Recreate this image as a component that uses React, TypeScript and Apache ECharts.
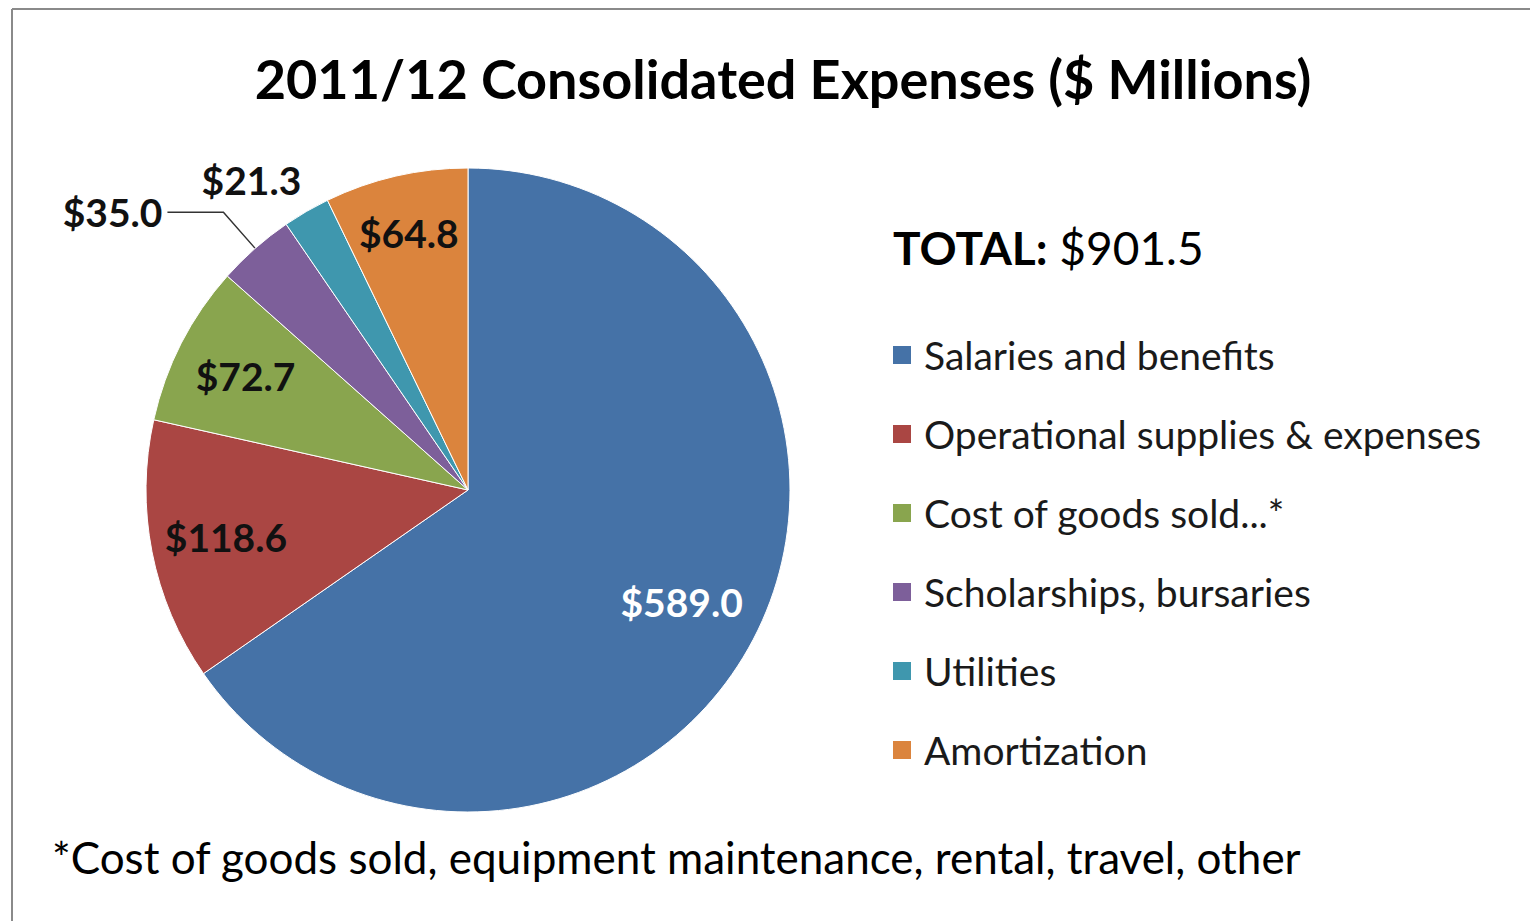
import React, { useEffect, useRef } from "react";
import * as echarts from "echarts";

const categories = [
  "Salaries and benefits",
  "Operational supplies & expenses",
  "Cost of goods sold...*",
  "Scholarships, bursaries",
  "Utilities",
  "Amortization",
];
const values = [589.0, 118.6, 72.7, 35.0, 21.3, 64.8];
const colors = ["#4572A7", "#AA4643", "#89A54E", "#7D5F9A", "#3F97AE", "#DB843D"];
const titleText = "2011/12 Consolidated Expenses ($ Millions)";
const totalLabel = "TOTAL:";
const totalValue = "$901.5";
const footnote = "*Cost of goods sold, equipment maintenance, rental, travel, other";

const FONT = "Lato, 'Open Sans', sans-serif";
const CX = 468;
const CY = 490;
const R = 322;
// radial position of inside labels, as fraction of radius
const insideFrac: Record<number, number> = { 0: 0.735, 1: 0.752, 2: 0.762, 5: 0.805 };

export default function App() {
  const ref = useRef<HTMLDivElement>(null);
  useEffect(() => {
    if (!ref.current) return;
    const chart = echarts.init(ref.current, undefined, { renderer: "svg" });
    const outside = new Set([3, 4]);
    const data = categories.map((name, i) => {
      const item: any = {
        name,
        value: values[i],
        itemStyle: { color: colors[i] },
        label: {
          position: outside.has(i) ? "outside" : "inside",
          color: i === 0 ? "#ffffff" : "#111111",
        },
        labelLine: { show: false },
      };
      if (i === 3) {
        item.labelLine = { show: true, length: 48, length2: 56, lineStyle: { color: "#333", width: 1.5 } };
      }
      if (i === 4) {
        item.labelLine = { show: false, length: 36, length2: 0 };
      }
      return item;
    });
    chart.setOption({
      animation: false,
      backgroundColor: "#ffffff",
      title: {
        text: titleText,
        left: 778,
        textAlign: "center",
        top: 46,
        textStyle: { fontFamily: FONT, fontSize: 54, fontWeight: "bold", color: "#000" },
      },
      legend: {
        orient: "vertical",
        left: 886,
        top: 327,
        itemWidth: 20,
        itemHeight: 20,
        itemGap: 33,
        icon: "rect",
        selectedMode: false,
        data: categories,
        textStyle: {
          fontFamily: FONT,
          fontSize: 39,
          lineHeight: 46,
          color: "#1a1a1a",
          padding: [0, 0, 0, 7],
        },
      },
      graphic: [
        { type: "line", shape: { x1: 12, y1: 9, x2: 1530, y2: 9 }, style: { stroke: "#8a8a8a", lineWidth: 2 } },
        { type: "line", shape: { x1: 12, y1: 9, x2: 12, y2: 921 }, style: { stroke: "#8a8a8a", lineWidth: 2 } },
        {
          type: "text",
          left: 893,
          top: 224,
          style: {
            text: "{b|" + totalLabel + "}{r| " + totalValue + "}",
            rich: {
              b: { fontFamily: FONT, fontSize: 46, fontWeight: "bold", fill: "#000" },
              r: { fontFamily: FONT, fontSize: 46, fill: "#000" },
            },
          },
        },
        {
          type: "text",
          left: 52,
          top: 835,
          style: { text: footnote, fontFamily: FONT, fontSize: 44, fill: "#000" },
        },
      ],
      series: [
        {
          type: "pie",
          center: [CX, CY],
          radius: R,
          startAngle: 90,
          clockwise: true,
          avoidLabelOverlap: false,
          silent: true,
          emphasis: { disabled: true },
          itemStyle: { borderColor: "#ffffff", borderWidth: 1 },
          label: {
            show: true,
            fontFamily: FONT,
            fontSize: 39,
            fontWeight: "bold",
            formatter: (p: any) => "$" + Number(p.value).toFixed(1),
            alignTo: "none",
          },
          labelLayout: (p: any) => {
            const i = p.dataIndex;
            if (i === 4) return { dx: 18 };
            if (outside.has(i)) return {};
            const r = p.labelRect;
            const lx = r.x + r.width / 2;
            const ly = r.y + r.height / 2;
            const k = insideFrac[i] / 0.5 - 1;
            return { dx: (lx - CX) * k, dy: (ly - CY) * k };
          },
          data,
        },
      ],
    });
    return () => chart.dispose();
  }, []);
  return (
    <div
      ref={ref}
      style={{ position: "absolute", left: 0, top: 0, width: 1530, height: 921, background: "#fff" }}
    />
  );
}
